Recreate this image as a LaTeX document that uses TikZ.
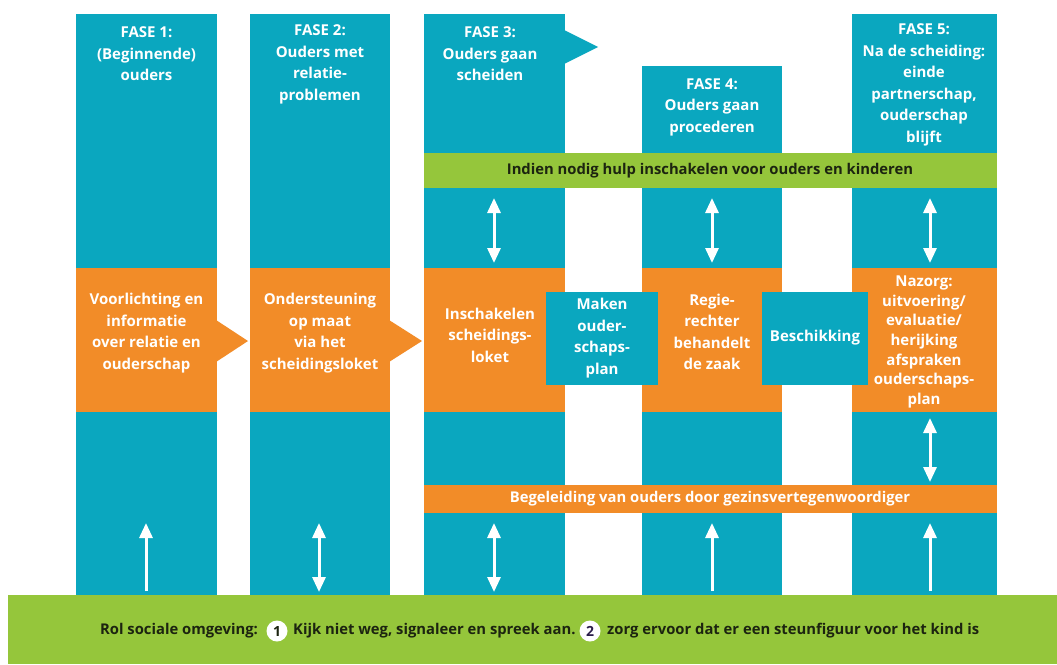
\documentclass[tikz,border=0pt]{standalone}
\usepackage{fontspec}
\setmainfont{Open Sans}
\usetikzlibrary{arrows.meta}
\definecolor{cblue}{HTML}{0AA7BF}
\definecolor{corange}{HTML}{F28C28}
\definecolor{cgreen}{HTML}{95C63B}
\definecolor{cdark}{HTML}{1C2410}
\tikzset{
  colbox/.style={fill=cblue, inner sep=0pt, outer sep=0pt, anchor=north west},
  orbox/.style={fill=corange, inner sep=0pt, outer sep=0pt, anchor=north west},
  grbox/.style={fill=cgreen, inner sep=0pt, outer sep=0pt, anchor=north west},
  wtxt/.style={text=white, align=center, font=\bfseries\fontsize{15}{21.5}\selectfont, inner sep=0pt},
  dtxt/.style={text=cdark, align=center, font=\bfseries\fontsize{14.8}{17}\selectfont, inner sep=0pt},
  warr/.style={draw=white, line width=3pt, -{Triangle[width=13pt,length=15pt]}},
  wdarr/.style={draw=white, line width=3pt, {Triangle[width=13pt,length=15pt]}-{Triangle[width=13pt,length=15pt]}},
  numc/.style={circle, fill=white, minimum size=21pt, inner sep=0pt, text=cdark, font=\bfseries\fontsize{14}{16}\selectfont}
}
\begin{document}
\begin{tikzpicture}[x=1pt,y=-1pt]
\useasboundingbox (0,0) rectangle (1057,664);
\fill[white] (0,0) rectangle (1057,664);
% columns
\node[colbox, minimum width=141pt, minimum height=583pt] (c1) at (76,14) {};
\node[colbox, minimum width=140pt, minimum height=583pt] (c2) at (250,14) {};
\node[colbox, minimum width=141pt, minimum height=583pt] (c3) at (424,14) {};
\node[colbox, minimum width=140pt, minimum height=531pt] (c4) at (642,66) {};
\node[colbox, minimum width=145pt, minimum height=583pt] (c5) at (852,14) {};
\fill[cblue] (564,30) -- (598,47) -- (564,64) -- cycle;
% headers
\node[wtxt] (h1) at (146.5,54) {FASE 1:\\(Beginnende)\\ouders};
\node[wtxt] (h2) at (320,64.5) {FASE 2:\\Ouders met\\relatie-\\problemen};
\node[wtxt] (h3) at (490,54) {FASE 3:\\Ouders gaan\\scheiden};
\node[wtxt] (h4) at (712,107) {FASE 4:\\Ouders gaan\\procederen};
\node[wtxt] (h5) at (924,85) {FASE 5:\\Na de scheiding:\\einde\\partnerschap,\\ouderschap\\blijft};
% green band
\node[grbox, minimum width=573pt, minimum height=35pt] (gband) at (424,153) {};
\node[dtxt] (gtxt) at (710,171) {Indien nodig hulp inschakelen voor ouders en kinderen};
% orange blocks
\node[orbox, minimum width=141pt, minimum height=144pt] (o1) at (76,268) {};
\fill[corange] (216,320) -- (248,341) -- (216,362) -- cycle;
\node[orbox, minimum width=140pt, minimum height=144pt] (o2) at (250,268) {};
\fill[corange] (389,320) -- (422,341) -- (389,362) -- cycle;
\node[orbox, minimum width=141pt, minimum height=144pt] (o3) at (424,268) {};
\node[orbox, minimum width=140pt, minimum height=144pt] (o4) at (642,268) {};
\node[orbox, minimum width=145pt, minimum height=144pt] (o5) at (852,268) {};
\node[colbox, minimum width=112pt, minimum height=93pt] (bm) at (546,292) {};
\node[colbox, minimum width=106pt, minimum height=93pt] (bb) at (762,292) {};
\node[wtxt] (t1) at (146.5,333) {Voorlichting en\\informatie\\over relatie en\\ouderschap};
\node[wtxt] (t2) at (320,333) {Ondersteuning\\op maat\\via het\\scheidingsloket};
\node[wtxt] (t3) at (490,335) {Inschakelen\\scheidings-\\loket};
\node[wtxt] (t4) at (602,338) {Maken\\ouder-\\schaps-\\plan};
\node[wtxt] (t5) at (712,332) {Regie-\\rechter\\behandelt\\de zaak};
\node[wtxt] (t6) at (815,338) {Beschikking};
\node[wtxt, font=\bfseries\fontsize{15}{19.7}\selectfont] (t7) at (924,342) {Nazorg:\\uitvoering/\\evaluatie/\\herijking\\afspraken\\ouderschaps-\\plan};
% orange band
\node[orbox, minimum width=573pt, minimum height=28pt] (oband) at (424,485) {};
\node[wtxt, font=\bfseries\fontsize{14.8}{17}\selectfont] (otxt) at (710,499) {Begeleiding van ouders door gezinsvertegenwoordiger};
% bottom bar
\node[grbox, minimum width=1049pt, minimum height=69pt] (bar) at (8,595) {};
\node[dtxt, anchor=west] (r1) at (100,631) {Rol sociale omgeving:};
\node[numc] (n1) at (277,631) {1};
\node[dtxt, anchor=west] (r2) at (293,631) {Kijk niet weg, signaleer en spreek aan.};
\node[numc] (n2) at (590,631) {\textcolor[HTML]{2B1E4A}{2}};
\node[dtxt, anchor=west] (r3) at (607,631) {zorg ervoor dat er een steunfiguur voor het kind is};
% arrows
\coordinate (a1b) at (146,591); \coordinate (a1t) at (146,523);
\coordinate (a2b) at (319,592); \coordinate (a2t) at (319,523);
\coordinate (a3b) at (494,592); \coordinate (a3t) at (494,523);
\coordinate (a3u) at (494,198); \coordinate (a3d) at (494,263);
\coordinate (a4u) at (712,198); \coordinate (a4d) at (712,263);
\coordinate (a4b) at (712,591); \coordinate (a4t) at (712,523);
\coordinate (a5u) at (930,198); \coordinate (a5d) at (930,263);
\coordinate (a5m) at (930,418); \coordinate (a5n) at (930,482);
\coordinate (a5b) at (930,591); \coordinate (a5t) at (930,523);
\draw[warr] (a1b) -- (a1t);
\draw[wdarr] (a2b) -- (a2t);
\draw[wdarr] (a3b) -- (a3t);
\draw[wdarr] (a3u) -- (a3d);
\draw[wdarr] (a4u) -- (a4d);
\draw[warr] (a4b) -- (a4t);
\draw[wdarr] (a5u) -- (a5d);
\draw[wdarr] (a5m) -- (a5n);
\draw[warr] (a5b) -- (a5t);
\end{tikzpicture}
\end{document}
